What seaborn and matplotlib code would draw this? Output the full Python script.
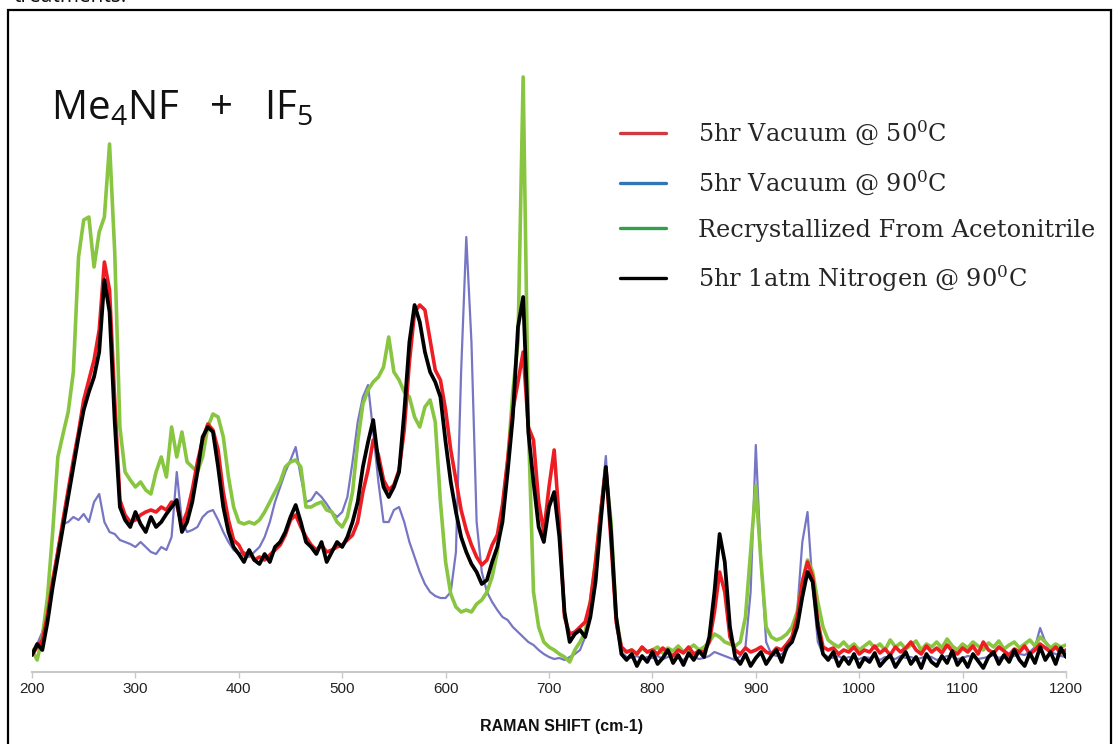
import numpy as np
import pandas as pd
import matplotlib
matplotlib.use("Agg")
import matplotlib.pyplot as plt
from matplotlib.lines import Line2D
from matplotlib.patches import Rectangle
import seaborn as sns

# Raman shift grid (cm-1), 5 cm-1 spacing
shift = np.arange(200, 1201, 5)

# Relative Raman intensity (arbitrary units)
vac50 = [
    17, 25, 32, 57, 92, 120, 152, 182, 212, 240,
    272, 292, 312, 342, 410, 382, 272, 172, 157, 150,
    152, 157, 160, 162, 160, 165, 162, 170, 167, 147,
    160, 182, 210, 232, 248, 242, 222, 180, 152, 132,
    127, 117, 120, 112, 115, 112, 117, 122, 127, 137,
    152, 157, 145, 135, 127, 122, 127, 120, 122, 125,
    127, 132, 137, 150, 180, 202, 232, 217, 192, 182,
    187, 202, 242, 310, 360, 367, 362, 332, 302, 292,
    262, 222, 192, 162, 142, 127, 115, 107, 112, 127,
    137, 167, 212, 262, 290, 320, 245, 232, 170, 140,
    185, 222, 150, 55, 38, 40, 45, 50, 70, 110,
    160, 205, 130, 50, 25, 20, 22, 18, 25, 20,
    22, 18, 24, 20, 16, 22, 19, 25, 18, 21,
    20, 30, 60, 100, 80, 35, 22, 18, 24, 20,
    22, 25, 20, 18, 24, 22, 28, 35, 55, 90,
    110, 95, 50, 25, 22, 24, 18, 22, 20, 25,
    18, 22, 20, 26, 19, 23, 17, 25, 20, 24,
    30, 22, 18, 26, 20, 24, 19, 27, 21, 18,
    24, 20, 26, 18, 30, 22, 19, 25, 21, 17,
    23, 20, 26, 18, 22, 28, 24, 20, 25, 19,
    22,
]
vac90 = [
    20, 28, 40, 62, 90, 125, 148, 150, 155, 152,
    158, 150, 170, 178, 150, 140, 138, 132, 130, 128,
    125, 130, 125, 120, 118, 125, 122, 135, 200, 150,
    140, 142, 145, 155, 160, 162, 152, 140, 130, 122,
    118, 120, 115, 120, 125, 135, 150, 170, 185, 200,
    212, 225, 195, 170, 172, 180, 175, 168, 160, 155,
    160, 175, 210, 250, 275, 287, 240, 190, 150, 150,
    162, 165, 150, 130, 115, 100, 88, 80, 76, 74,
    74, 80, 120, 300, 435, 330, 150, 100, 80, 70,
    62, 55, 52, 45, 40, 35, 30, 27, 22, 18,
    15, 13, 14, 12, 15, 18, 22, 35, 55, 100,
    165, 216, 130, 45, 20, 15, 14, 16, 13, 15,
    14, 16, 13, 15, 17, 14, 12, 16, 15, 13,
    14, 16, 20, 18, 16, 14, 12, 16, 25, 80,
    227, 110, 30, 18, 16, 18, 22, 30, 60, 130,
    160, 85, 30, 18, 15, 14, 16, 13, 15, 14,
    13, 15, 14, 16, 12, 15, 14, 13, 16, 14,
    15, 13, 14, 16, 15, 12, 14, 16, 15, 13,
    14, 16, 15, 13, 14, 15, 17, 14, 16, 15,
    16, 18, 17, 20, 25, 44, 30, 20, 18, 16,
    15,
]
recryst = [
    22, 12, 35, 75, 140, 215, 238, 260, 300, 415,
    452, 455, 405, 440, 455, 528, 420, 245, 200, 192,
    185, 190, 182, 178, 200, 215, 195, 245, 215, 240,
    210, 205, 200, 215, 245, 258, 255, 235, 195, 165,
    150, 148, 150, 148, 152, 160, 170, 180, 190, 205,
    210, 212, 205, 165, 165, 168, 170, 162, 160, 150,
    145, 155, 180, 230, 268, 282, 290, 295, 305, 335,
    300, 292, 280, 275, 255, 245, 265, 272, 250, 170,
    110, 78, 65, 60, 62, 60, 68, 72, 80, 95,
    120, 165, 210, 280, 330, 595, 250, 80, 45, 30,
    25, 22, 18, 15, 10, 22, 30, 40, 70, 110,
    160, 200, 150, 55, 25, 20, 22, 18, 24, 20,
    22, 25, 19, 24, 21, 26, 20, 23, 27, 22,
    25, 30, 38, 35, 30, 28, 26, 30, 55, 120,
    186, 110, 45, 35, 32, 34, 38, 45, 60, 90,
    112, 100, 70, 45, 32, 28, 25, 30, 24, 28,
    22, 26, 30, 24, 28, 22, 32, 25, 29, 23,
    27, 31, 22, 28, 25, 30, 24, 33, 26, 22,
    28, 24, 30, 26, 22, 29, 25, 31, 23, 27,
    30, 24, 28, 32, 26, 35, 30, 24, 28, 25,
    27,
]
nitrogen90 = [
    17, 28, 22, 50, 85, 115, 145, 175, 205, 235,
    262, 280, 295, 320, 392, 360, 250, 165, 152, 145,
    160, 148, 140, 155, 145, 150, 158, 165, 172, 140,
    150, 170, 200, 235, 245, 240, 205, 165, 140, 125,
    118, 110, 122, 112, 108, 118, 110, 125, 130, 140,
    155, 167, 150, 130, 125, 118, 130, 110, 120, 130,
    125, 135, 150, 170, 205, 230, 252, 210, 185, 175,
    185, 200, 260, 330, 367, 350, 320, 300, 290, 275,
    230, 190, 160, 135, 120, 108, 100, 88, 92, 110,
    125, 150, 200, 255, 345, 375, 240, 190, 145, 130,
    165, 180, 135, 60, 30, 38, 42, 35, 55, 90,
    150, 205, 140, 55, 18, 12, 18, 6, 16, 10,
    20, 8, 14, 22, 9, 17, 7, 19, 12, 21,
    15, 35, 80, 138, 110, 45, 15, 8, 18, 6,
    14, 20, 8, 16, 22, 10, 25, 30, 45, 75,
    100, 90, 45, 18, 12, 20, 6, 15, 8, 18,
    5, 14, 10, 19, 6, 12, 17, 5, 13, 20,
    8, 15, 4, 18, 10, 6, 16, 9, 21, 7,
    14, 5, 18, 11, 4, 15, 20, 8, 17, 10,
    22, 12, 6, 19, 9, 25, 12, 20, 8, 24,
    15,
]

labels = [
    "5hr Vacuum @ 50$^{0}$C",
    "5hr Vacuum @ 90$^{0}$C",
    "Recrystallized From Acetonitrile",
    "5hr 1atm Nitrogen @ 90$^{0}$C",
]
xticks = [200, 300, 400, 500, 600, 700, 800, 900, 1000, 1100, 1200]

sns.set_theme(style="white")
plt.rcParams["mathtext.default"] = "regular"

W, H = 1115, 744
fig = plt.figure(figsize=(W / 100, H / 100), dpi=100)
fig.patch.set_facecolor("white")

# axes box in pixel terms
x0, x1 = 32, 1066
ybase, ytop = 672, 72
ax = fig.add_axes([x0 / W, 1 - ybase / H, (x1 - x0) / W, (ybase - ytop) / H])
ax.set_facecolor("none")

df = pd.DataFrame({"shift": shift, "vac50": vac50, "vac90": vac90,
                   "recryst": recryst, "n2": nitrogen90})

sns.lineplot(data=df, x="shift", y="vac90", ax=ax, color="#7676c4", lw=1.6)
sns.lineplot(data=df, x="shift", y="recryst", ax=ax, color="#88c540", lw=2.6)
sns.lineplot(data=df, x="shift", y="vac50", ax=ax, color="#ee1d23", lw=2.6)
sns.lineplot(data=df, x="shift", y="n2", ax=ax, color="#000000", lw=2.7)

ax.set_xlim(200, 1200)
ax.set_ylim(0, 600)
ax.set_yticks([])
ax.set_ylabel("")
ax.set_xticks(xticks)
ax.set_xticklabels([str(t) for t in xticks], fontsize=11,
                   family="Liberation Sans", color="#222222")
for s in ["top", "right", "left"]:
    ax.spines[s].set_visible(False)
ax.spines["bottom"].set_color("#c8c8c8")
ax.spines["bottom"].set_linewidth(1.5)
ax.tick_params(axis="x", length=4, width=1, color="#c8c8c8", pad=3.5, bottom=True)
ax.set_xlabel("RAMAN SHIFT (cm-1)", fontsize=11.5, fontweight="bold",
              family="Liberation Sans", color="#111111")
ax.xaxis.set_label_coords((562 - x0) / (x1 - x0), -(726 - ybase) / (ybase - ytop))
ax.xaxis.label.set_va("center")

# compound name
fig.text(51 / W, 1 - 119 / H, "Me$_{4}$NF   +   IF$_{5}$", fontsize=29,
         family="Open Sans", va="baseline", ha="left", color="#111111")

# legend
handles = [
    Line2D([], [], color="#cf3a40", lw=2.4),
    Line2D([], [], color="#2f78b5", lw=2.4),
    Line2D([], [], color="#30a04e", lw=2.4),
    Line2D([], [], color="#000000", lw=2.4),
]
fig.legend(handles, labels, loc="upper left",
           bbox_to_anchor=(620 / W, 1 - 119 / H), frameon=False,
           prop={"family": "DejaVu Serif", "size": 17.3},
           handlelength=1.9, handletextpad=1.33, labelspacing=0.87,
           borderaxespad=0, borderpad=0)

# figure frame and the caption line running above it
fig.patches.append(Rectangle((8 / W, -0.05), (1111 - 8) / W, (1 - 10 / H) + 0.05,
                             transform=fig.transFigure, fill=False,
                             edgecolor="black", lw=1.6, clip_on=False))
fig.text(14 / W, 1 - 2.5 / H, "treatments.", fontsize=15, family="Open Sans",
         va="baseline", ha="left", color="#111111")

fig.savefig("out.png", dpi=100, facecolor="white")
